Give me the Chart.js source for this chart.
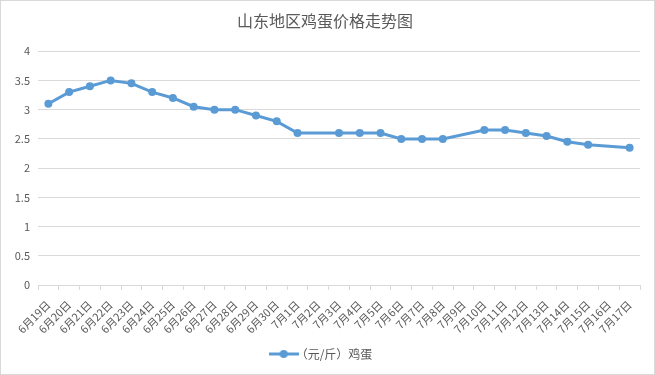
<!DOCTYPE html>
<html>
<head>
<meta charset="utf-8">
<script src="https://cdn.jsdelivr.net/npm/chart.js@4.4.1/dist/chart.umd.min.js"></script>
<style>
  html, body { margin: 0; padding: 0; background: #fff; }
  #wrap { width: 655px; height: 375px; box-sizing: border-box; border: 1px solid #d9d9d9; position: relative; }
  canvas { display: block; }
</style>
</head>
<body>
<div id="wrap"><canvas id="chart" width="653" height="373"></canvas></div>
<script>
const dates = ["6月19日","6月20日","6月21日","6月22日","6月23日","6月24日","6月25日","6月26日","6月27日","6月28日",
  "6月29日","6月30日","7月1日","7月2日","7月3日","7月4日","7月5日","7月6日","7月7日","7月8日",
  "7月9日","7月10日","7月11日","7月12日","7月13日","7月14日","7月15日","7月16日","7月17日"];
const eggPrice = [3.1, 3.3, 3.4, 3.5, 3.45, 3.3, 3.2, 3.05, 3.0, 3.0,
  2.9, 2.8, 2.6, null, 2.6, 2.6, 2.6, 2.5, 2.5, 2.5,
  null, 2.65, 2.65, 2.6, 2.55, 2.45, 2.4, null, 2.35];
const seriesName = "（元/斤）鸡蛋";
const chartTitle = "山东地区鸡蛋价格走势图";

const blue = "#5b9bd5";
const textGray = "#595959";
const gridGray = "#d9d9d9";
const fontFamily = "'Noto Sans CJK SC', 'Noto Sans', sans-serif";

// legend marker: line with a dot in the middle
const marker = document.createElement("canvas");
marker.width = 30; marker.height = 10;
const mctx = marker.getContext("2d");
mctx.strokeStyle = blue; mctx.lineWidth = 3;
mctx.beginPath(); mctx.moveTo(0, 5); mctx.lineTo(30, 5); mctx.stroke();
mctx.fillStyle = blue;
mctx.beginPath(); mctx.arc(15, 5, 4, 0, Math.PI * 2); mctx.fill();

new Chart(document.getElementById("chart"), {
  type: "line",
  data: {
    labels: dates,
    datasets: [{
      label: seriesName,
      data: eggPrice,
      borderColor: blue,
      backgroundColor: blue,
      borderWidth: 3,
      pointRadius: 4,
      pointBorderWidth: 0,
      pointHoverRadius: 4,
      pointBackgroundColor: blue,
      pointBorderColor: blue,
      spanGaps: true,
      tension: 0
    }]
  },
  options: {
    responsive: false,
    animation: false,
    layout: { padding: { left: 9, right: 14, top: 0, bottom: 4 } },
    plugins: {
      title: {
        display: true,
        text: chartTitle,
        color: textGray,
        font: { family: fontFamily, size: 16, weight: "normal" },
        padding: { top: 10, bottom: 21 }
      },
      legend: {
        position: "bottom",
        labels: {
          color: textGray,
          font: { family: fontFamily, size: 12 },
          usePointStyle: true,
          generateLabels: (chart) => {
            const items = Chart.defaults.plugins.legend.labels.generateLabels(chart);
            items.forEach(it => { it.pointStyle = marker; it.fontColor = textGray; });
            return items;
          },
          padding: 10
        }
      },
      tooltip: { enabled: false }
    },
    scales: {
      x: {
        offset: true,
        grid: { offset: true, drawOnChartArea: false, drawTicks: true, tickLength: 5, color: gridGray },
        border: { color: gridGray },
        ticks: {
          color: textGray,
          font: { family: fontFamily, size: 11 },
          autoSkip: false,
          maxRotation: 45,
          minRotation: 45,
          padding: 8
        },
        afterFit: (scale) => { scale.height = 53; }
      },
      y: {
        min: 0,
        max: 4,
        ticks: {
          stepSize: 0.5,
          color: textGray,
          font: { family: fontFamily, size: 11 },
          padding: 8,
          callback: (v) => String(v)
        },
        grid: { color: gridGray, drawTicks: false },
        border: { display: false },
        afterFit: (scale) => { scale.width = 28; }
      }
    }
  }
});
</script>
</body>
</html>
